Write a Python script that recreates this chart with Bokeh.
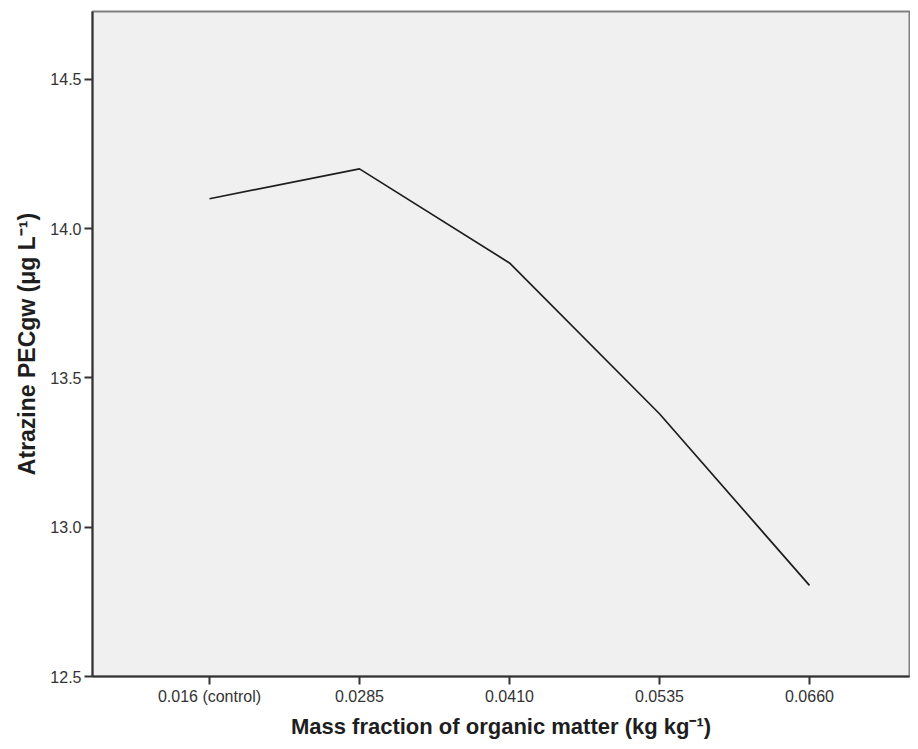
from bokeh.plotting import figure
from bokeh.models import Range1d, FixedTicker
from bokeh.embed import file_html
from bokeh.resources import INLINE

categories = ["0.016 (control)", "0.0285", "0.0410", "0.0535", "0.0660"]
pec_values = [14.10, 14.20, 13.885, 13.38, 12.805]
y_ticks = [12.5, 13.0, 13.5, 14.0, 14.5]

xs = list(range(len(categories)))

p = figure(width=910, height=741, output_backend="svg", toolbar_location=None,
           x_range=Range1d(-0.78, 4.667), y_range=Range1d(12.5, 14.727),
           min_border_left=92, min_border_right=1, min_border_top=11, min_border_bottom=65)
p.background_fill_color = "#f0f0f0"
p.border_fill_color = "white"
p.outline_line_color = "#808080"
p.outline_line_width = 2
p.grid.visible = False

p.line(xs, pec_values, line_color="#1e1e1e", line_width=1.7)

p.xaxis.ticker = FixedTicker(ticks=xs)
p.xaxis.major_label_overrides = {i: c for i, c in enumerate(categories)}
p.yaxis.ticker = FixedTicker(ticks=y_ticks)
p.yaxis.major_label_overrides = {t: f"{t:.1f}" for t in y_ticks}

for ax in (p.xaxis[0], p.yaxis[0]):
    ax.axis_line_color = "#333333"
    ax.axis_line_width = 2
    ax.major_tick_line_color = "#333333"
    ax.major_tick_line_width = 2
    ax.major_tick_in = 0
    ax.major_tick_out = 8
    ax.minor_tick_line_color = None
    ax.major_label_text_font = "Liberation Sans"
    ax.major_label_text_font_size = "16px"
    ax.major_label_text_color = "#333333"
    ax.axis_label_text_font = "Liberation Sans"
    ax.axis_label_text_font_style = "bold"
    ax.axis_label_text_color = "#1e1e1e"

p.xaxis.axis_label = "Mass fraction of organic matter (kg kg\u207b\u00b9)"
p.yaxis.axis_label = "Atrazine PECgw (\u03bcg L\u207b\u00b9)"
p.xaxis.axis_label_text_font_size = "22px"
p.yaxis.axis_label_text_font_size = "23px"
p.xaxis.major_label_standoff = 3
p.yaxis.major_label_standoff = 3
p.xaxis.axis_label_standoff = 6
p.yaxis.axis_label_standoff = 7

open("out.html", "w").write(file_html(p, INLINE))
